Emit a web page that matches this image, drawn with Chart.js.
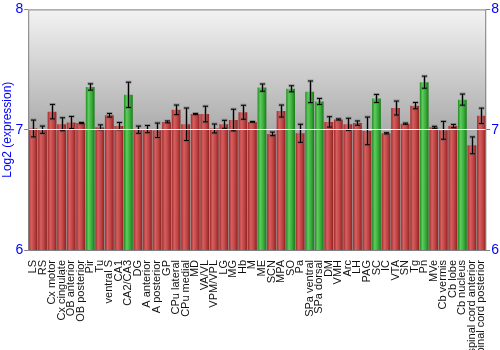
<!DOCTYPE html>
<html>
<head>
<meta charset="utf-8">
<script src="https://cdn.jsdelivr.net/npm/chart.js@4"></script>
<style>
  body { margin: 0; background: #fff; }
  #wrap { width: 500px; height: 350px; }
</style>
</head>
<body>
<div id="wrap"><canvas id="exprChart" width="500" height="350"></canvas></div>
<script>
// ====== DATA ======
const regions = ["LS", "RS", "Cx motor", "Cx cingulate", "OB anterior", "OB posterior", "Pir", "Tu",
  "ventral S", "CA1", "CA2/CA3", "DG", "A anterior", "A posterior", "GP", "CPu lateral", "CPu medial",
  "MD", "VA/VL", "VPM/VPL", "LG", "MG", "Hb", "M", "ME", "SCN", "MPA", "SO", "Pa", "SPa ventral",
  "SPa dorsal", "DM", "VMH", "Arc", "LH", "PAG", "SC", "IC", "VTA", "SN", "Tg", "Pn", "MVe",
  "Cb vermis", "Cb lobe", "Cb nucleus", "spinal cord anterior", "spinal cord posterior"];

const expression = [7.01, 7.00, 7.15, 7.045, 7.06, 7.055, 7.355, 7.02,
  7.12, 7.03, 7.29, 7.00, 7.005, 6.995, 7.065, 7.165, 7.045,
  7.13, 7.13, 7.01, 7.045, 7.08, 7.145, 7.065, 7.35, 6.965, 7.155, 7.34, 6.97, 7.315,
  7.235, 7.065, 7.085, 7.045, 7.055, 6.99, 7.26, 6.97, 7.18, 7.05, 7.20, 7.395, 7.02,
  6.995, 7.03, 7.25, 6.87, 7.115];

const errors = [0.07, 0.03, 0.06, 0.054, 0.05, 0.005, 0.026, 0.02,
  0.015, 0.03, 0.105, 0.03, 0.03, 0.06, 0.008, 0.04, 0.135,
  0.005, 0.065, 0.037, 0.033, 0.09, 0.058, 0.003, 0.03, 0.015, 0.05, 0.025, 0.075, 0.09,
  0.025, 0.043, 0.005, 0.05, 0.018, 0.115, 0.033, 0.005, 0.058, 0.005, 0.026, 0.05, 0.008,
  0.074, 0.014, 0.046, 0.07, 0.064];

// regions drawn in green
const highlighted = ["Pir", "CA2/CA3", "ME", "SO", "SPa ventral", "SPa dorsal", "SC", "Pn", "Cb nucleus"];

const yTicks = [6, 7, 8];

// ====== STYLE HELPERS ======
function barFill(context) {
  const chart = context.chart;
  const xs = chart.scales.x;
  const green = highlighted.includes(regions[context.dataIndex]);
  if (!xs || xs.width === undefined) return green ? "#3aaa3a" : "#c04040";
  const cx = xs.getPixelForValue(context.dataIndex);
  const w = xs.width / regions.length * 0.92;
  const g = chart.ctx.createLinearGradient(cx - w / 2, 0, cx + w / 2, 0);
  if (green) {
    g.addColorStop(0, "#1f8a1f");
    g.addColorStop(0.3, "#5fcb5f");
    g.addColorStop(0.65, "#3aad3a");
    g.addColorStop(1, "#1a7a1a");
  } else {
    g.addColorStop(0, "#a02a2a");
    g.addColorStop(0.3, "#d66060");
    g.addColorStop(0.65, "#c04444");
    g.addColorStop(1, "#8e2222");
  }
  return g;
}

// gray gradient behind the bars
const plotBackground = {
  id: "plotBackground",
  beforeDraw(chart) {
    const { ctx, chartArea: a } = chart;
    const g = ctx.createLinearGradient(0, a.top, 0, a.bottom);
    g.addColorStop(0, "#f3f3f3");
    g.addColorStop(0.5, "#acacac");
    g.addColorStop(1, "#9a9a9a");
    ctx.save();
    ctx.fillStyle = g;
    ctx.fillRect(a.left, a.top, a.right - a.left, a.bottom - a.top);
    ctx.restore();
  },
  afterDraw(chart) {
    const { ctx, chartArea: a } = chart;
    ctx.save();
    ctx.strokeStyle = "#808080";
    ctx.lineWidth = 1;
    ctx.strokeRect(a.left + 0.5, a.top + 0.5, a.right - a.left - 1, a.bottom - a.top);
    ctx.restore();
  }
};

// error bars from the errors array
const errorBars = {
  id: "errorBars",
  afterDatasetsDraw(chart) {
    const { ctx } = chart;
    const xs = chart.scales.x, ys = chart.scales.y;
    ctx.save();
    expression.forEach((v, i) => {
      const x = Math.round(xs.getPixelForValue(i)) + 0.5;
      const top = ys.getPixelForValue(v + errors[i]);
      const bot = ys.getPixelForValue(v - errors[i]);
      // soft halo
      ctx.strokeStyle = "rgba(90,90,90,0.45)";
      ctx.lineWidth = 3;
      ctx.beginPath();
      ctx.moveTo(x, top); ctx.lineTo(x, bot);
      ctx.moveTo(x - 3, top); ctx.lineTo(x + 3, top);
      ctx.moveTo(x - 3, bot); ctx.lineTo(x + 3, bot);
      ctx.stroke();
      ctx.strokeStyle = "#000";
      ctx.lineWidth = 1;
      ctx.beginPath();
      ctx.moveTo(x, top); ctx.lineTo(x, bot);
      ctx.moveTo(x - 2.5, top); ctx.lineTo(x + 2.5, top);
      ctx.moveTo(x - 2.5, bot); ctx.lineTo(x + 2.5, bot);
      ctx.stroke();
    });
    ctx.restore();
  }
};

const gridColor = c => (c.tick && c.tick.value === 7 ? "#ffffff" : "rgba(0,0,0,0)");

new Chart(document.getElementById("exprChart").getContext("2d"), {
  type: "bar",
  data: {
    labels: regions,
    datasets: [{
      data: expression,
      backgroundColor: barFill,
      borderWidth: 0,
      barPercentage: 0.92,
      categoryPercentage: 1.0
    }]
  },
  options: {
    responsive: false,
    animation: false,
    layout: { padding: { top: 4, right: 0, left: 0, bottom: 0 } },
    plugins: { legend: { display: false }, tooltip: { enabled: false } },
    scales: {
      x: {
        grid: { display: false },
        border: { display: false },
        afterFit: s => { s.height = 100; },
        ticks: {
          autoSkip: false, maxRotation: 90, minRotation: 90, padding: 2,
          color: "#111", font: { family: "Liberation Sans", size: 11 }
        }
      },
      y: {
        min: 6, max: 8,
        afterBuildTicks: s => { s.ticks = yTicks.map(v => ({ value: v })); },
        border: { display: false },
        grid: { color: gridColor, tickColor: "#808080", tickLength: 4, z: 1 },
        ticks: { color: "#0000ff", padding: 1, font: { family: "Liberation Sans", size: 14 } },
        title: {
          display: true, text: "Log2 (expression)", color: "#0000ff", padding: 0,
          font: { family: "Liberation Sans", size: 12 }
        }
      },
      y2: {
        position: "right",
        min: 6, max: 8,
        afterBuildTicks: s => { s.ticks = yTicks.map(v => ({ value: v })); },
        border: { display: false },
        grid: { drawOnChartArea: false, tickColor: "#808080", tickLength: 4 },
        ticks: { color: "#0000ff", padding: 1, font: { family: "Liberation Sans", size: 14 } }
      }
    }
  },
  plugins: [plotBackground, errorBars]
});
</script>
</body>
</html>
